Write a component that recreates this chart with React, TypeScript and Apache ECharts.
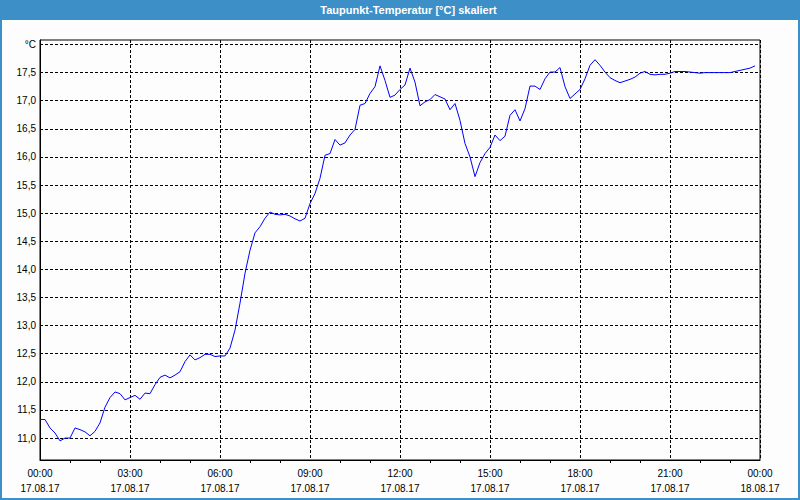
import React, { useEffect, useRef } from "react";
import * as echarts from "echarts";

// Dew point temperature, 10-minute samples starting 17.08.17 00:00
const startLabelDate = "17.08.17";
const endLabelDate = "18.08.17";
const stepMinutes = 10;
const values: number[] = [
  11.33, 11.33, 11.18, 11.09, 10.95, 11.0, 11.0, 11.18, 11.15, 11.11,
  11.04, 11.12, 11.27, 11.55, 11.72, 11.82, 11.79, 11.68, 11.72, 11.76,
  11.69, 11.8, 11.79, 11.95, 12.08, 12.12, 12.07, 12.12, 12.18, 12.36,
  12.48, 12.39, 12.43, 12.49, 12.49, 12.45, 12.46, 12.46, 12.6, 12.92,
  13.4, 13.93, 14.34, 14.65, 14.76, 14.91, 15.02, 14.98, 14.97, 14.98,
  14.95, 14.9, 14.86, 14.91, 15.17, 15.35, 15.62, 16.03, 16.06, 16.31,
  16.21, 16.25, 16.39, 16.49, 16.92, 16.95, 17.13, 17.25, 17.62, 17.36,
  17.06, 17.1, 17.2, 17.28, 17.58, 17.33, 16.91, 16.98, 17.02, 17.11,
  17.07, 17.03, 16.84, 16.95, 16.65, 16.24, 16.0, 15.65, 15.9, 16.06,
  16.17, 16.39, 16.29, 16.37, 16.74, 16.84, 16.64, 16.86, 17.26, 17.26,
  17.2, 17.39, 17.51, 17.51, 17.59, 17.25, 17.04, 17.12, 17.2, 17.39,
  17.63, 17.73, 17.63, 17.51, 17.41, 17.36, 17.32, 17.35, 17.38, 17.42,
  17.49, 17.52, 17.47, 17.46, 17.47, 17.47, 17.49, 17.52, 17.52, 17.52,
  17.51, 17.5, 17.49, 17.5, 17.5, 17.5, 17.5, 17.5, 17.5, 17.52,
  17.54, 17.56, 17.58, 17.62,
];
const yTickValues: number[] = [11, 11.5, 12, 12.5, 13, 13.5, 14, 14.5, 15, 15.5, 16, 16.5, 17, 17.5, 18];
const titleText = "Taupunkt-Temperatur [°C] skaliert";
const unitLabel = "°C";

const BLUE = "#3d8fc7";
const FONT = "Liberation Sans";

export default function App() {
  const ref = useRef<HTMLDivElement>(null);
  useEffect(() => {
    if (!ref.current) return;
    const chart = echarts.init(ref.current, null, { renderer: "svg" });
    const data = values.map((v, i) => [(i * stepMinutes) / 60, v]);
    const pad = (n: number) => (n < 10 ? "0" + n : "" + n);
    chart.setOption({
      animation: false,
      backgroundColor: "#fcfdfc",
      textStyle: { fontFamily: FONT },
      grid: {
        left: 40,
        right: 40,
        top: 40,
        bottom: 40,
        show: true,
        borderColor: "#000",
        borderWidth: 1,
        backgroundColor: "transparent",
      },
      graphic: [
        { type: "rect", shape: { x: 0, y: 0, width: 800, height: 20 }, style: { fill: BLUE }, z: 10 },
        {
          type: "text",
          x: 408.5,
          y: 10,
          style: {
            text: titleText,
            fill: "#fff",
            font: `bold 11px "${FONT}"`,
            textAlign: "center",
            textVerticalAlign: "middle",
          },
          z: 11,
        },
        {
          type: "rect",
          shape: { x: 1, y: 1, width: 798, height: 498 },
          style: { fill: "none", stroke: BLUE, lineWidth: 2 },
          z: 10,
        },
      ],
      xAxis: {
        type: "value",
        min: 0,
        max: 24,
        interval: 3,
        axisLine: { show: true, lineStyle: { color: "#000", width: 1 } },
        axisTick: { show: false },
        minorTick: { show: true, splitNumber: 3, length: 3, lineStyle: { color: "#000", width: 1 } },
        minorSplitLine: { show: false },
        splitLine: { show: true, lineStyle: { color: "#000", type: [3, 2], width: 1 } },
        axisLabel: {
          color: "#000",
          fontSize: 10,
          fontFamily: FONT,
          lineHeight: 15,
          margin: 6,
          showMinLabel: true,
          showMaxLabel: true,
          formatter: (v: number) =>
            v >= 24 ? `00:00\n${endLabelDate}` : `${pad(Math.round(v))}:00\n${startLabelDate}`,
        },
      },
      yAxis: {
        type: "value",
        min: 10.61,
        max: 18.08,
        axisLine: { show: true, lineStyle: { color: "#000", width: 1 } },
        axisTick: { show: false, customValues: yTickValues },
        splitLine: { show: true, lineStyle: { color: "#000", type: [3, 2], width: 1 } },
        axisLabel: {
          customValues: yTickValues,
          color: "#000",
          fontSize: 10,
          fontFamily: FONT,
          margin: 4,
          formatter: (v: number) => (v >= 17.99 ? unitLabel : v.toFixed(1).replace(".", ",")),
        },
      },
      series: [
        {
          type: "line",
          data,
          showSymbol: false,
          symbol: "none",
          lineStyle: { color: "#0000ff", width: 1 },
          itemStyle: { color: "#0000ff" },
        },
      ],
    });
    return () => chart.dispose();
  }, []);
  return (
    <div
      ref={ref}
      style={{ position: "fixed", left: 0, top: 0, width: 800, height: 500 }}
    />
  );
}
